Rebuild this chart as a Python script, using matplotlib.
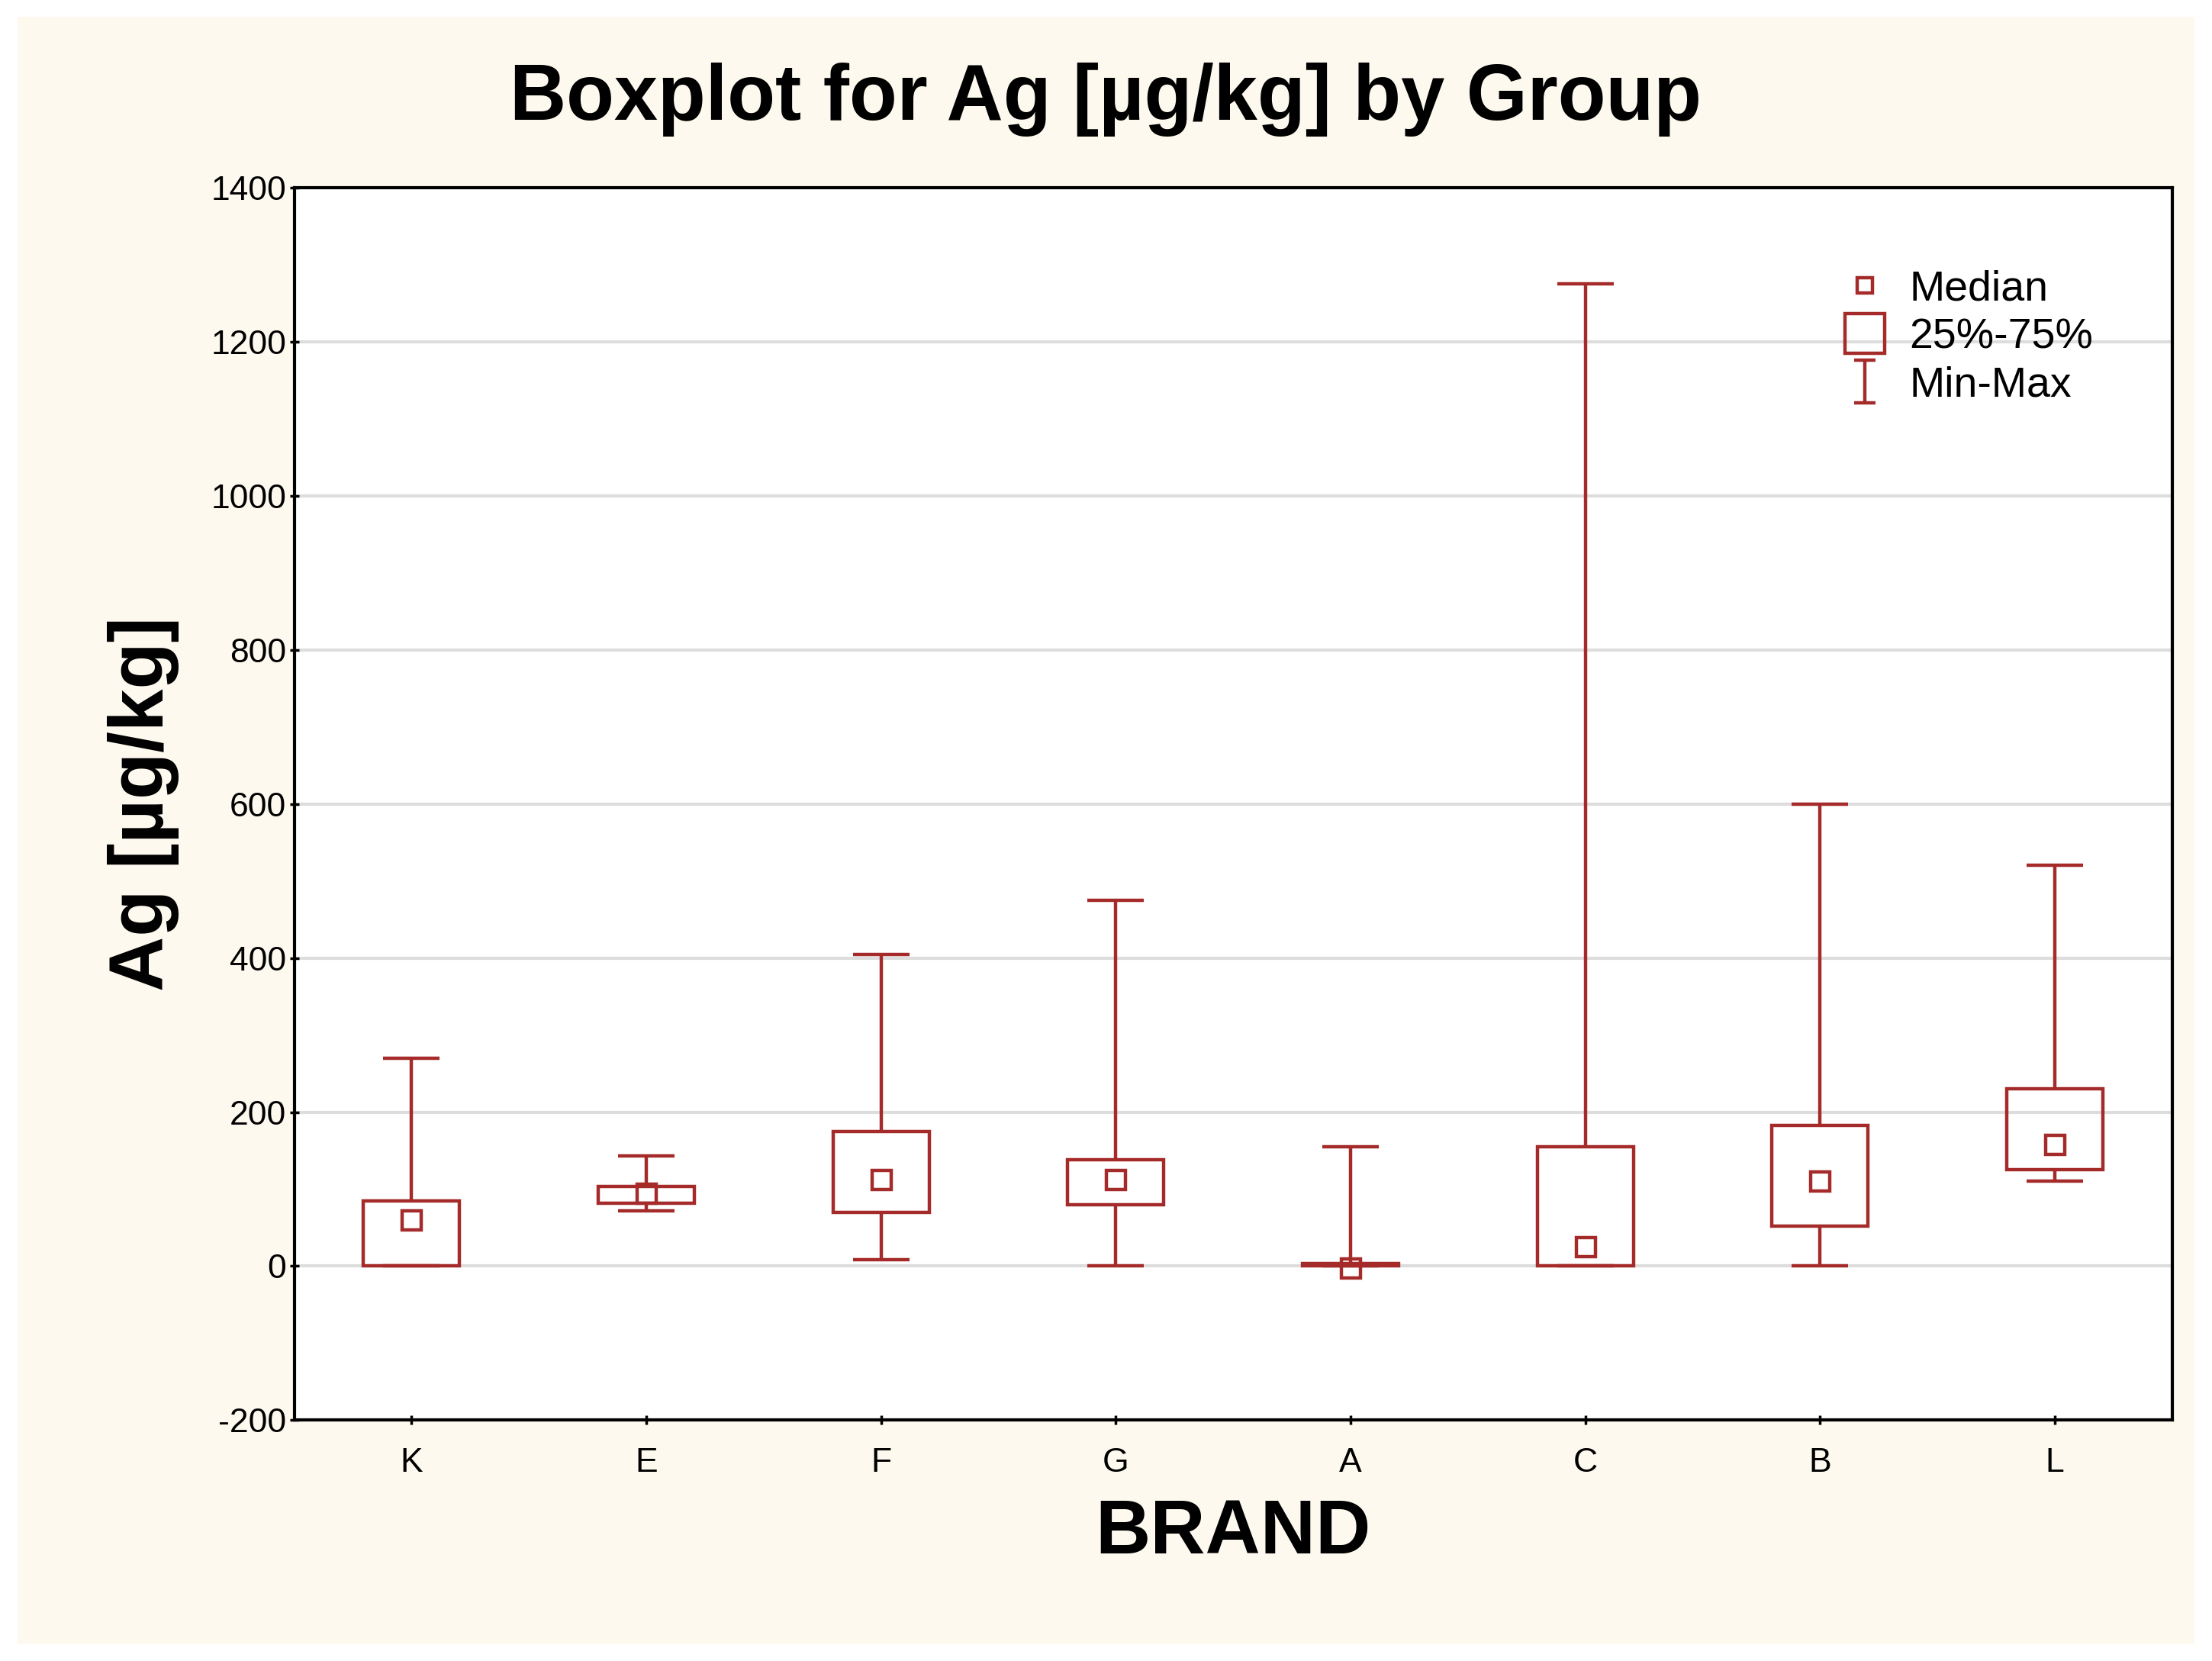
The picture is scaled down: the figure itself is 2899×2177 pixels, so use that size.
import matplotlib
matplotlib.use("Agg")
import matplotlib.pyplot as plt
from matplotlib.patches import Rectangle
from matplotlib.lines import Line2D
from matplotlib.path import Path

plt.rcParams['font.family'] = ['Liberation Sans', 'DejaVu Sans']
plt.rcParams['axes.unicode_minus'] = False

brands = ["K", "E", "F", "G", "A", "C", "B", "L"]
mins    = [0, 72, 8, 0, 0, 0, 0, 110]
q1s     = [0, 82, 70, 80, 0, 0, 52, 125]
medians = [60, 95, 112, 112, -3, 25, 110, 158]
q3s     = [85, 103, 175, 138, 3, 155, 183, 230]
maxs    = [270, 143, 405, 475, 155, 1275, 600, 520]

col = "#a52a2a"
lw = 3.2
fig = plt.figure(figsize=(28.99, 21.77), dpi=100)
fig.patch.set_facecolor("white")
fig.patches.append(Rectangle((0.008, 0.01), 0.984, 0.98, transform=fig.transFigure,
                             facecolor="#fdf9ee", edgecolor="none", zorder=-10))
ax = fig.add_axes([0.133, 0.145, 0.849, 0.742])
ax.set_facecolor("white")
x = list(range(len(brands)))
bw, cw = 0.41, 0.24
for i in x:
    ax.vlines(i, mins[i], q1s[i], color=col, lw=lw, zorder=2)
    ax.vlines(i, q3s[i], maxs[i], color=col, lw=lw, zorder=2)
    ax.hlines([mins[i], maxs[i]], i - cw/2, i + cw/2, color=col, lw=lw, zorder=2)
    ax.add_patch(Rectangle((i - bw/2, q1s[i]), bw, q3s[i] - q1s[i], facecolor="none",
                           edgecolor=col, lw=lw, zorder=3))
ax.plot(x, medians, ls="none", marker="s", ms=18, mfc="none", mec=col, mew=lw, zorder=4)
ax.set_xlim(-0.5, 7.5)
ax.set_ylim(-200, 1400)
ax.set_yticks(range(-200, 1401, 200))
ax.set_xticks(x)
ax.set_xticklabels(brands)
ax.yaxis.grid(True, color="#dddddd", lw=3)
ax.set_axisbelow(True)
for s in ax.spines.values():
    s.set_linewidth(3)
ax.tick_params(labelsize=32, length=8, width=2.5, direction="inout")
ax.tick_params(axis="x", pad=22)
ax.set_xlabel("BRAND", fontsize=72, fontweight="bold", labelpad=18)
ax.set_ylabel("Ag [µg/kg]", fontsize=72, fontweight="bold", labelpad=30)
fig.text(0.5, 0.94, "Boxplot for Ag [µg/kg] by Group", fontsize=74, fontweight="bold",
         ha="center", va="center")
cap = Path([(-0.5, 1), (0.5, 1), (0, 1), (0, -1), (-0.5, -1), (0.5, -1)],
           [Path.MOVETO, Path.LINETO, Path.MOVETO, Path.LINETO, Path.MOVETO, Path.LINETO])
handles = [
    Line2D([], [], ls="none", marker="s", ms=14, mfc="none", mec=col, mew=lw),
    Line2D([], [], ls="none", marker="s", ms=38, mfc="none", mec=col, mew=lw),
    Line2D([], [], ls="none", marker=cap, ms=40, mfc="none", mec=col, mew=lw),
]
ax.legend(handles, ["Median", "25%-75%", "Min-Max"], loc="upper right", frameon=False,
          fontsize=40, handletextpad=0.05, borderaxespad=0.8, labelspacing=0.2,
          bbox_to_anchor=(0.985, 0.975))
fig.savefig("out.png", dpi=100, facecolor=fig.get_facecolor())
